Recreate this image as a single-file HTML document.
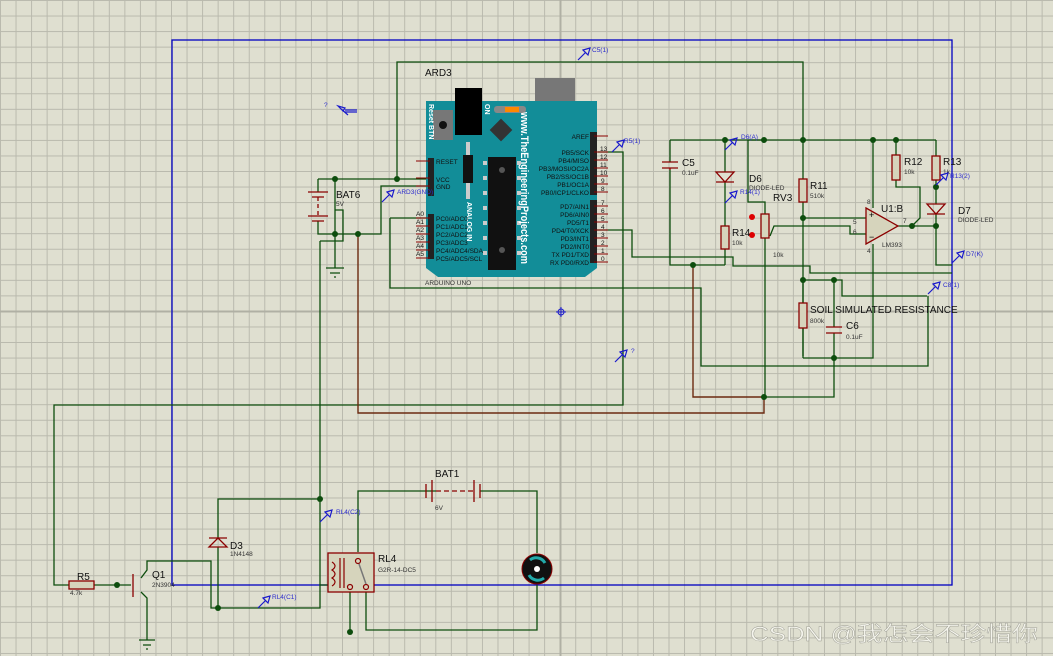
<!DOCTYPE html>
<html><head><meta charset="utf-8"><style>
html,body{margin:0;padding:0;width:1053px;height:656px;overflow:hidden;background:#dfdfd0;}
body{background-color:#dfdfd0;background-image:linear-gradient(to right,#b9b9ad 1px,transparent 1px),linear-gradient(to bottom,#b9b9ad 1px,transparent 1px);background-size:15.56px 15.56px;}
svg{position:absolute;left:0;top:0;}
text{font-family:"Liberation Sans",sans-serif;}
</style></head><body>
<svg width="1053" height="656" viewBox="0 0 1053 656">
<line x1="560.5" y1="0" x2="560.5" y2="656" stroke="#b0b0a4" stroke-width="2"/>
<line x1="0" y1="311.5" x2="1053" y2="311.5" stroke="#b0b0a4" stroke-width="2"/>
<rect x="172" y="40" width="780" height="545" fill="none" stroke="#0000c0" stroke-width="1.3"/>

<g fill="none" stroke="#0d4d0d" stroke-width="1.3">
<path d="M397,179 V62 H803 V356"/>
<path d="M670,140 H936"/>
<path d="M670,140 V162 M670,170 V265 H725"/>
<path d="M725,140 V172 M725,182 V226 M725,249 V265"/>
<path d="M596,230 H632 V257 H733 V266 H810 V273 H952"/>
<path d="M764,140 H748 V202 H765 V214 M765,238 V397"/>
<path d="M770,236 L774,226 H850 V234 H866"/>
<path d="M803,218 H866"/>
<path d="M873,140 V208 M873,244 V358 H803"/>
<path d="M898,226 H936"/>
<path d="M896,140 V155 M896,180 V187 H920 V218 L912,226"/>
<path d="M936,140 V156 M936,180 V204 M936,214 V265 H952"/>
<path d="M803,280 H842 V296 H927"/>
<path d="M834,280 V327 M834,333 V397 H764"/>
<path d="M803,303 V280 M803,328 V358"/>
<path d="M390,218 H428 M390,218 V288 H701 V366 H928 V296"/>
<path d="M598,152 H623 V405 H54 V585 H69"/>
<path d="M94,585 H131"/>
<path d="M141,578 L147,570 V561 H211 V608 H320 V585 H328"/>
<path d="M141,592 L147,598 V640"/>
<path d="M218,608 V547 M218,538 V499 H320"/>
<path d="M320,241 H343 V210 H335 M320,241 V585"/>
<path d="M318,179 H397 H428 M318,179 V192 M318,221 V234 H381 V186 H428"/>
<path d="M335,179 V234 V268"/>
<path d="M358,552 V491 H436 M480,491 H537 V553 M537,585 V630 H366 V592 M350,592 V632"/>
</g>
<path d="M358,234 V413 H764 V397 M693,265 V397 H764" fill="none" stroke="#6b2a10" stroke-width="1.4"/>

<g fill="#0d4d0d">
<circle cx="397" cy="179" r="3"/><circle cx="335" cy="179" r="3"/><circle cx="335" cy="234" r="3"/><circle cx="358" cy="234" r="3"/>
<circle cx="725" cy="140" r="3"/><circle cx="764" cy="140" r="3"/><circle cx="803" cy="140" r="3"/><circle cx="873" cy="140" r="3"/><circle cx="896" cy="140" r="3"/>
<circle cx="693" cy="265" r="3"/><circle cx="803" cy="218" r="3"/><circle cx="803" cy="280" r="3"/><circle cx="834" cy="280" r="3"/>
<circle cx="834" cy="358" r="3"/><circle cx="764" cy="397" r="3"/><circle cx="912" cy="226" r="3"/><circle cx="936" cy="226" r="3"/><circle cx="936" cy="187" r="3"/>
<circle cx="320" cy="499" r="3"/><circle cx="218" cy="608" r="3"/><circle cx="117" cy="585" r="3"/><circle cx="350" cy="632" r="3"/>
</g>

<g fill="none" stroke="#8b0000" stroke-width="1.3">
<path d="M662,162 H678 M662,168 H678 M670,168 V170"/>
<path d="M716,172 H734 L725,182 Z M716,182 H734"/>
<path d="M927,204 H945 L936,214 Z M927,214 H945"/>
<path d="M209,547 H227 L218,538 Z M209,538 H227"/>
<path d="M826,327 H842 M826,333 H842"/>
<path d="M308,192 H328 M312,197 H324 M308,216 H328 M312,221 H324"/>
<path d="M318,197 V218" stroke-dasharray="4,3"/>
<path d="M426,484 V498 M432,480 V502 M474,480 V502 M480,484 V498"/>
<path d="M436,491 H474" stroke-dasharray="5,3"/>
<path d="M133,574 V597"/>
</g>
<g fill="#d6d4bc" stroke="#8b0000" stroke-width="1.3">
<rect x="721" y="226" width="8" height="23"/>
<rect x="799" y="179" width="8" height="23"/>
<rect x="892" y="155" width="8" height="25"/>
<rect x="932" y="156" width="8" height="24"/>
<rect x="799" y="303" width="8" height="25"/>
<rect x="69" y="581" width="25" height="8"/>
<rect x="761" y="214" width="8" height="24"/>
<rect x="328" y="553" width="46" height="39"/>
</g>
<circle cx="752" cy="217" r="3" fill="#d00"/><circle cx="752" cy="235" r="3" fill="#d00"/>
<g fill="none" stroke="#8b0000" stroke-width="1.2">
<path d="M332,562 q6,4 0,8 q6,4 0,8 q6,4 0,8"/>
<path d="M340,558 V588 M344,558 V588"/>
<circle cx="358" cy="561" r="2.5"/><circle cx="350" cy="587" r="2.5"/><circle cx="366" cy="587" r="2.5"/>
</g>
<path d="M359,564 L366,584" stroke="#777" stroke-width="1.5"/>
<path d="M866,208 L898,226 L866,244 Z" fill="#d6d4bc" stroke="#8b0000" stroke-width="1.3"/>
<text x="869" y="218" font-size="9" fill="#000">+</text><text x="869" y="240" font-size="9" fill="#000">−</text>
<g stroke="#0d4d0d" stroke-width="1.3"><path d="M326,268 H344 M330,273 H340 M334,277 H336"/><path d="M139,640 H155 M143,645 H151 M146,649 H148"/></g>
<circle cx="537" cy="569" r="15" fill="#111" stroke="#8b0000"/>
<path d="M530,560 a10,10 0 0 1 15,3" stroke="#2aa" stroke-width="3" fill="none"/>
<path d="M544,578 a10,10 0 0 1 -15,-3" stroke="#2aa" stroke-width="3" fill="none"/>
<circle cx="537" cy="569" r="3" fill="#fff"/>

<rect x="535" y="78" width="40" height="45" fill="#777"/>
<path d="M426,101 H597 V268 L585,277 H438 L426,268 Z" fill="#128d98"/>
<rect x="455" y="88" width="27" height="47" fill="#000"/>
<rect x="433" y="110" width="20" height="30" fill="#777"/><circle cx="443" cy="125" r="4" fill="#111"/>
<rect x="494" y="106" width="32" height="7" rx="3" fill="#888"/><rect x="505" y="107" width="14" height="5" fill="#f80"/>
<rect x="493" y="122" width="16" height="16" transform="rotate(45 501 130)" fill="#333"/>
<rect x="466" y="142" width="4" height="13" fill="#ccc"/><rect x="463" y="155" width="10" height="28" fill="#111"/><rect x="466" y="183" width="4" height="16" fill="#ccc"/>
<rect x="488" y="157" width="28" height="113" fill="#111"/>
<g fill="#ccc"><rect x="483" y="161" width="4" height="4"/><rect x="483" y="176" width="4" height="4"/><rect x="483" y="191" width="4" height="4"/><rect x="483" y="206" width="4" height="4"/><rect x="483" y="221" width="4" height="4"/><rect x="483" y="236" width="4" height="4"/><rect x="483" y="251" width="4" height="4"/><rect x="517" y="161" width="4" height="4"/><rect x="517" y="176" width="4" height="4"/><rect x="517" y="191" width="4" height="4"/><rect x="517" y="206" width="4" height="4"/><rect x="517" y="221" width="4" height="4"/><rect x="517" y="236" width="4" height="4"/><rect x="517" y="251" width="4" height="4"/></g>
<circle cx="502" cy="170" r="3" fill="#555"/><circle cx="502" cy="250" r="3" fill="#555"/>
<text transform="translate(521,112) rotate(90)" font-size="11" font-weight="bold" fill="#fff" textLength="152" lengthAdjust="spacingAndGlyphs">www.TheEngineeringProjects.com</text>
<text transform="translate(429,104) rotate(90)" font-size="7" font-weight="bold" fill="#fff">Reset BTN</text>
<text transform="translate(485,104) rotate(90)" font-size="7" font-weight="bold" fill="#fff">ON</text>
<text transform="translate(467,202) rotate(90)" font-size="7" font-weight="bold" fill="#fff">ANALOG IN</text>
<rect x="428" y="158" width="6" height="38" fill="#222"/><rect x="428" y="214" width="6" height="45" fill="#222"/>
<rect x="590" y="132" width="7" height="63" fill="#222"/><rect x="590" y="200" width="7" height="63" fill="#222"/>
<g stroke="#8b0000" stroke-width="1"><path d="M416,161 H430 M416,178 H430 M416,186 H430 M416,218 H430 M416,226 H430 M416,234 H430 M416,242 H430 M416,250 H430 M416,258 H430"/>
<path d="M594,136 H608 M594,152 H608 M594,160 H608 M594,168 H608 M594,176 H608 M594,184 H608 M594,192 H608 M594,206 H608 M594,214 H608 M594,222 H608 M594,230 H608 M594,238 H608 M594,246 H608 M594,254 H608 M594,262 H608"/></g>
<g font-size="6.5" fill="#111">
<text x="436" y="164">RESET</text><text x="436" y="182">VCC</text><text x="436" y="189">GND</text>
<text x="436" y="221">PC0/ADC0</text><text x="436" y="229">PC1/ADC1</text><text x="436" y="237">PC2/ADC2</text><text x="436" y="245">PC3/ADC3</text><text x="436" y="253">PC4/ADC4/SDA</text><text x="436" y="261">PC5/ADC5/SCL</text>
<text x="416" y="216">A0</text><text x="416" y="224">A1</text><text x="416" y="232">A2</text><text x="416" y="240">A3</text><text x="416" y="248">A4</text><text x="416" y="256">A5</text>
<g text-anchor="end"><text x="589" y="139">AREF</text><text x="589" y="155">PB5/SCK</text><text x="589" y="163">PB4/MISO</text><text x="589" y="171">PB3/MOSI/OC2A</text><text x="589" y="179">PB2/SS/OC1B</text><text x="589" y="187">PB1/OC1A</text><text x="589" y="195">PB0/ICP1/CLKO</text>
<text x="589" y="209">PD7/AIN1</text><text x="589" y="217">PD6/AIN0</text><text x="589" y="225">PD5/T1</text><text x="589" y="233">PD4/T0/XCK</text><text x="589" y="241">PD3/INT1</text><text x="589" y="249">PD2/INT0</text><text x="589" y="257">TX PD1/TXD</text><text x="589" y="265">RX PD0/RXD</text></g>
<text x="600" y="151">13</text><text x="600" y="159">12</text><text x="600" y="167">11</text><text x="600" y="175">10</text><text x="601" y="183">9</text><text x="601" y="191">8</text>
<text x="601" y="205">7</text><text x="601" y="213">6</text><text x="601" y="221">5</text><text x="601" y="229">4</text><text x="601" y="237">3</text><text x="601" y="245">2</text><text x="601" y="253">1</text><text x="601" y="261">0</text>
</g>

<g fill="#111" font-size="10">
<text x="425" y="76">ARD3</text><text x="336" y="198">BAT6</text><text x="682" y="166">C5</text><text x="749" y="182">D6</text><text x="810" y="189">R11</text>
<text x="773" y="201">RV3</text><text x="732" y="236">R14</text><text x="904" y="165">R12</text><text x="943" y="165">R13</text><text x="958" y="214">D7</text><text x="881" y="212">U1:B</text>
<text x="810" y="313">SOIL SIMULATED RESISTANCE</text><text x="846" y="329">C6</text><text x="435" y="477">BAT1</text><text x="230" y="549">D3</text><text x="378" y="562">RL4</text><text x="152" y="578">Q1</text><text x="77" y="580">R5</text>
</g>
<g fill="#333" font-size="6.5">
<text x="425" y="285">ARDUINO UNO</text><text x="336" y="206">5V</text><text x="682" y="175">0.1uF</text><text x="749" y="190">DIODE-LED</text><text x="810" y="198">510k</text>
<text x="773" y="257">10k</text><text x="732" y="245">10k</text><text x="904" y="174">10k</text><text x="943" y="174">1k</text><text x="958" y="222">DIODE-LED</text><text x="882" y="247">LM393</text>
<text x="810" y="323">800k</text><text x="846" y="339">0.1uF</text><text x="435" y="510">6V</text><text x="230" y="556">1N4148</text><text x="378" y="572">G2R-14-DC5</text><text x="152" y="587">2N3904</text><text x="70" y="595">4.7k</text>
<text x="853" y="224">5</text><text x="853" y="234">6</text><text x="903" y="223">7</text><text x="867" y="204">8</text><text x="867" y="253">4</text>
</g>
<g stroke="#1a1acc" fill="none" stroke-width="1.2">
<path d="M578,60 L586,52 M583,50 L590,48 L588,55 Z"/>
<path d="M612,152 L620,144 M617,142 L624,140 L622,147 Z"/>
<path d="M725,150 L733,142 M730,140 L737,138 L735,145 Z"/>
<path d="M725,203 L733,195 M730,193 L737,191 L735,198 Z"/>
<path d="M936,185 L944,177 M941,175 L948,173 L946,180 Z"/>
<path d="M952,263 L960,255 M957,253 L964,251 L962,258 Z"/>
<path d="M928,294 L936,286 M933,284 L940,282 L938,289 Z"/>
<path d="M382,202 L390,194 M387,192 L394,190 L392,197 Z"/>
<path d="M615,362 L623,354 M620,352 L627,350 L625,357 Z"/>
<path d="M320,522 L328,514 M325,512 L332,510 L330,517 Z"/>
<path d="M258,608 L266,600 M263,598 L270,596 L268,603 Z"/>
<path d="M343,111 L338,106 L345,108 Z M340,108 L348,115 M345,110 H357 M345,112 H357"/>
</g>
<g fill="#2a2acc" font-size="6.5">
<text x="592" y="52">C5(1)</text><text x="624" y="143">R5(1)</text><text x="741" y="139">D6(A)</text><text x="740" y="194">R14(1)</text><text x="950" y="178">R13(2)</text>
<text x="966" y="256">D7(K)</text><text x="943" y="287">C8(1)</text><text x="397" y="194">ARD3(GND)</text><text x="631" y="353">?</text><text x="324" y="107">?</text>
<text x="336" y="514">RL4(C2)</text><text x="272" y="599">RL4(C1)</text>
</g>
<path d="M561,307 V317 M556,312 H566" stroke="#1a1acc"/><circle cx="561" cy="312" r="3" fill="none" stroke="#1a1acc"/>
<text x="750" y="641" font-size="21" fill="#f4f4ec" stroke="#9a9a90" stroke-width="0.4" textLength="288" lengthAdjust="spacingAndGlyphs" style="font-family:'Liberation Sans','Noto Sans CJK SC',sans-serif">CSDN @我怎会不珍惜你</text>
</svg>
</body></html>
